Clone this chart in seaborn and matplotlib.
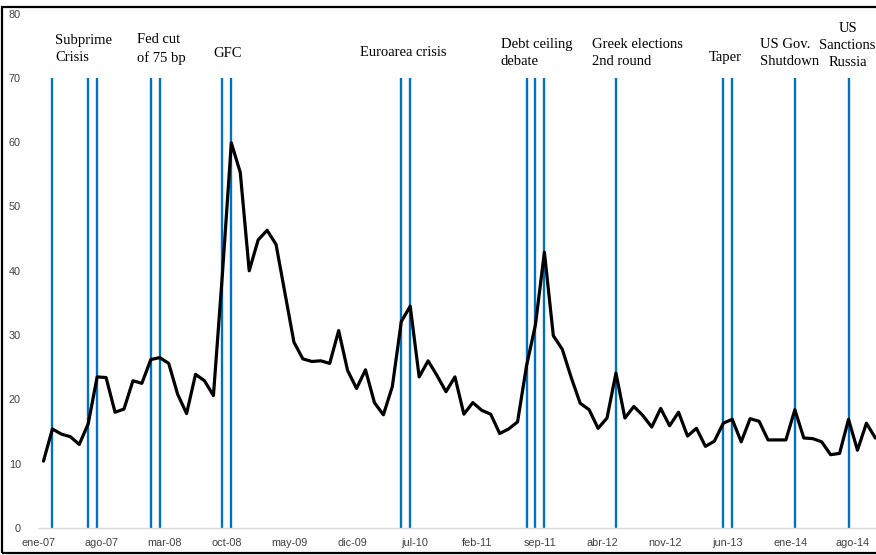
import numpy as np
import pandas as pd
import matplotlib
matplotlib.use("Agg")
import matplotlib.pyplot as plt
from matplotlib.patches import Rectangle
import seaborn as sns

# serie mensual ene-07 .. oct-14
valores = [10.4, 15.4, 14.6, 14.2, 13.0, 16.2, 23.5, 23.4, 18.0, 18.5,
           22.9, 22.5, 26.2, 26.5, 25.6, 20.8, 17.8, 23.9, 22.9, 20.6,
           39.4, 59.9, 55.3, 40.0, 44.8, 46.3, 44.1, 36.5, 28.9, 26.3,
           25.9, 26.0, 25.6, 30.7, 24.5, 21.7, 24.6, 19.5, 17.6, 22.0,
           32.1, 34.5, 23.5, 26.0, 23.7, 21.2, 23.5, 17.7, 19.5, 18.3,
           17.7, 14.7, 15.4, 16.5, 25.2, 31.6, 42.9, 29.9, 27.8, 23.4,
           19.4, 18.4, 15.5, 17.1, 24.1, 17.1, 18.9, 17.5, 15.7, 18.6,
           15.9, 18.0, 14.3, 15.5, 12.7, 13.5, 16.3, 16.9, 13.4, 17.0,
           16.6, 13.7, 13.7, 13.7, 18.4, 14.0, 13.9, 13.4, 11.4, 11.6,
           16.9, 12.1, 16.3, 14.0]

# meses con evento (indice desde ene-07)
eventos = [1, 5, 6, 12, 13, 20, 21, 40, 41, 54, 55, 56, 64, 76, 77, 84, 90]
altura_evento = 70

etiquetas_x = ['ene-07', 'ago-07', 'mar-08', 'oct-08', 'may-09', 'dic-09', 'jul-10',
               'feb-11', 'sep-11', 'abr-12', 'nov-12', 'jun-13', 'ene-14', 'ago-14']

# textos de los eventos: (texto, x en meses, y en valor, alineacion)
textos = [
    ('Subprime\nCrisis', 1.8, 74.5, 'left'),
    ('Fed cut\nof 75 bp', 11.0, 74.5, 'left'),
    ('GFC', 19.5, 73.8, 'left'),
    ('Euroarea crisis', 35.9, 73.9, 'left'),
    ('Debt ceiling\ndebate', 51.6, 73.85, 'left'),
    ('Greek elections\n2nd round', 61.8, 73.9, 'left'),
    ('Taper', 74.9, 73.25, 'left'),
    ('US Gov.\nShutdown', 80.6, 73.9, 'left'),
    ('US\nSanctions\nRussia', 90.4, 75.0, 'center'),
]

df = pd.DataFrame({'pos': np.arange(len(valores)) + 0.5, 'valor': valores})

sns.set_style('white')
plt.rcParams['font.family'] = ['Liberation Sans', 'DejaVu Sans']

fig = plt.figure(figsize=(8.76, 5.55), dpi=100)
ax = fig.add_axes([39 / 876, 27 / 555, 1 - 39 / 876, (528 - 13.6) / 555])

ax.vlines(np.array(eventos) + 0.5, 0, altura_evento, color='#0070C0', lw=1.7, zorder=1)
sns.lineplot(data=df, x='pos', y='valor', color='black', lw=2.3, ax=ax, zorder=3)

ax.set_xlim(0, (876 - 39) / 8.945)
ax.set_ylim(0, 80)
ax.set_xticks(np.arange(len(etiquetas_x)) * 7)
ax.set_xticklabels(etiquetas_x)
ax.set_yticks(range(0, 81, 10))
ax.tick_params(axis='x', length=4, width=0.8, color='#BFBFBF', labelsize=7.8,
               labelcolor='#404040', pad=3)
ax.tick_params(axis='y', length=0, labelsize=7.8, labelcolor='#404040', pad=13)
ax.set_xlabel('')
ax.set_ylabel('')
for lado in ['top', 'right', 'left']:
    ax.spines[lado].set_visible(False)
ax.spines['bottom'].set_color('#D9D9D9')
ax.spines['bottom'].set_linewidth(1)

for txt, x, y, ha in textos:
    ax.text(x, y, txt, ha=ha, va='center', fontsize=10.5, family='Liberation Serif',
            linespacing=1.4, color='black', clip_on=False)

# marco exterior del grafico
fig.add_artist(Rectangle((1.5 / 876, 2 / 555), 1.1, (555 - 7 - 2) / 555,
                         transform=fig.transFigure, fill=False, ec='black', lw=1.6))

fig.savefig('out.png', dpi=100)
